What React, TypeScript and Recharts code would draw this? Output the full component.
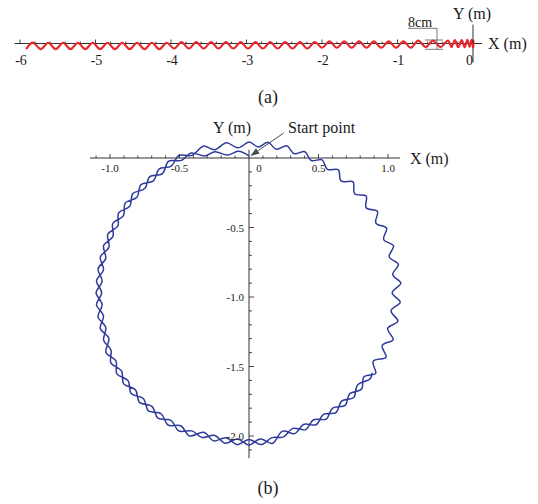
import React from "react"
import { LineChart, Line, XAxis, YAxis, ReferenceLine, ReferenceDot } from "recharts"

type Pt = [number, number]

const SERIF = '"Liberation Serif", "Times New Roman", serif'
const RED = "#e6282d"
const BLUE = "#2f3b9c"
const INK = "#1a1a1a"

// (a) straight run along -X, extrema of the weave (m)
const straightRun: Pt[] = [
  [-5.919, -0.075], [-5.821, 0.009], [-5.723, -0.075], [-5.625, 0.009], [-5.527, -0.075],
  [-5.429, 0.009], [-5.331, -0.075], [-5.233, 0.009], [-5.135, -0.075], [-5.037, 0.009],
  [-4.939, -0.075], [-4.841, 0.009], [-4.743, -0.075], [-4.645, 0.009], [-4.547, -0.075],
  [-4.449, 0.009], [-4.351, -0.075], [-4.253, 0.009], [-4.155, -0.075], [-4.057, 0.009],
  [-3.959, -0.066], [-3.861, 0.018], [-3.763, -0.066], [-3.665, 0.018], [-3.567, -0.066],
  [-3.469, 0.018], [-3.371, -0.066], [-3.273, 0.018], [-3.175, -0.066], [-3.077, 0.018],
  [-2.979, -0.066], [-2.881, 0.018], [-2.783, -0.066], [-2.685, 0.018], [-2.587, -0.066],
  [-2.489, 0.018], [-2.391, -0.066], [-2.293, 0.018], [-2.195, -0.066], [-2.097, 0.018],
  [-1.999, -0.056], [-1.901, 0.028], [-1.803, -0.056], [-1.705, 0.028], [-1.607, -0.056],
  [-1.509, 0.028], [-1.411, -0.056], [-1.313, 0.028], [-1.215, -0.056], [-1.117, 0.028],
  [-1.019, -0.056], [-0.921, 0.028], [-0.823, -0.056], [-0.725, 0.038], [-0.627, -0.046],
  [-0.529, 0.038], [-0.431, -0.046], [-0.333, 0.038], [-0.285, -0.05], [-0.24, 0.045],
  [-0.195, -0.05], [-0.15, 0.045], [-0.11, -0.05], [-0.075, 0.05], [-0.045, -0.045],
  [-0.02, 0.05], [0.0, -0.05], [0.006, 0.04],
]
const runTicks = [-6, -5, -4, -3, -2, -1, 0]
const runTickLabels = ["-6", "-5", "-4", "-3", "-2", "-1", "0"]

// (b) circular run: first lap from the start point, the single right-hand stretch, second lap
const startLap: Pt[] = [
  [0, 0.016], [-0.08, 0.049], [-0.157, 0.021], [-0.244, 0.045], [-0.32, 0.015],
  [-0.417, 0.036], [-0.486, -0.017], [-0.58, -0.024], [-0.623, -0.112], [-0.714, -0.134],
  [-0.75, -0.22], [-0.836, -0.256], [-0.858, -0.347], [-0.938, -0.395], [-0.944, -0.489],
  [-1.016, -0.549], [-1.008, -0.642], [-1.07, -0.713], [-1.047, -0.804], [-1.097, -0.884],
  [-1.06, -0.97], [-1.097, -1.056], [-1.047, -1.136], [-1.07, -1.227], [-1.008, -1.298],
  [-1.03, -1.397], [-0.958, -1.458], [-0.951, -1.553], [-0.87, -1.602], [-0.848, -1.694],
  [-0.76, -1.73], [-0.724, -1.818], [-0.632, -1.84], [-0.583, -1.921], [-0.488, -1.928],
  [-0.427, -2.0], [-0.326, -1.973], [-0.256, -2.035], [-0.165, -2.012], [-0.086, -2.062],
  [0, -2.025], [0.086, -2.062], [0.165, -2.012], [0.249, -2.006], [0.317, -1.945],
  [0.408, -1.954], [0.465, -1.883], [0.556, -1.878], [0.602, -1.799], [0.692, -1.78],
  [0.725, -1.695], [0.81, -1.662], [0.829, -1.572],
]
const rightSide: Pt[] = [
  [0.912, -1.549], [0.894, -1.461], [0.986, -1.434], [0.958, -1.349], [1.037, -1.307],
  [0.998, -1.226], [1.071, -1.174], [1.022, -1.099], [1.088, -1.038], [1.03, -0.97],
  [1.092, -0.901], [1.034, -0.839], [1.075, -0.765], [1.009, -0.711], [1.04, -0.632],
  [0.969, -0.586], [0.99, -0.504], [0.913, -0.468], [0.924, -0.384], [0.843, -0.358],
  [0.843, -0.273], [0.76, -0.257], [0.749, -0.172], [0.664, -0.167], [0.643, -0.085],
  [0.564, -0.082], [0.526, -0.013], [0.448, -0.018], [0.402, 0.045], [0.325, 0.031],
  [0.272, 0.088], [0.197, 0.063], [0.137, 0.113], [0.066, 0.08],
]
const secondLap: Pt[] = [
  [0, 0.115], [-0.08, 0.073], [-0.163, 0.11], [-0.245, 0.06], [-0.33, 0.085],
  [-0.41, 0.019], [-0.504, 0.019], [-0.559, -0.058], [-0.647, -0.08], [-0.688, -0.164],
  [-0.778, -0.192], [-0.806, -0.282], [-0.89, -0.323], [-0.904, -0.416], [-0.98, -0.471],
  [-0.979, -0.564], [-1.046, -0.63], [-1.031, -0.723], [-1.086, -0.798], [-1.057, -0.887],
  [-1.1, -0.97], [-1.057, -1.053], [-1.086, -1.142], [-1.031, -1.217], [-1.046, -1.31],
  [-0.993, -1.381], [-0.993, -1.476], [-0.917, -1.532], [-0.902, -1.625], [-0.817, -1.668],
  [-0.788, -1.758], [-0.698, -1.787], [-0.655, -1.872], [-0.562, -1.887], [-0.506, -1.963],
  [-0.411, -1.963], [-0.338, -2.011], [-0.246, -1.996], [-0.171, -2.052], [-0.083, -2.022],
  [0, -2.065], [0.083, -2.022], [0.171, -2.052], [0.239, -1.967], [0.329, -1.983],
  [0.392, -1.917], [0.484, -1.919], [0.536, -1.844], [0.626, -1.832], [0.666, -1.749],
  [0.753, -1.723], [0.779, -1.636], [0.862, -1.596], [0.885, -1.545],
]
const circleXTicks = [-1, -0.5, 0, 0.5, 1]
const circleXLabels = ["-1.0", "-0.5", "0", "0.5", "1.0"]
const circleYTicks = [-0.5, -1, -1.5, -2]
const circleYLabels = ["-0.5", "-1.0", "-1.5", "-2.0"]

const toRows = (pts: Pt[]) => pts.map(([x, y]) => ({ x, y }))

// domains so that metres map to the same pixels on both axes
function frame(w: number, h: number, ox: number, oy: number, k: number) {
  return { x: [-ox / k, (w - ox) / k], y: [-(h - oy) / k, oy / k] }
}

function steps(from: number, to: number, step: number) {
  const out: number[] = []
  for (let v = from; v <= to + 1e-9; v += step) out.push(Math.round(v * 1000) / 1000)
  return out
}
const isMajor = (v: number, every: number) => Math.abs(v / every - Math.round(v / every)) < 1e-6

const tickUp = (len: number) => (p: any) => (
  <line x1={p.cx} y1={p.cy} x2={p.cx} y2={p.cy - len} stroke={INK} strokeWidth={0.8} />
)
const tickRight = (len: number) => (p: any) => (
  <line x1={p.cx} y1={p.cy} x2={p.cx + len} y2={p.cy} stroke={INK} strokeWidth={0.8} />
)
const textAt = (s: string, dx: number, dy: number, size: number, anchor = "middle") => (p: any) => (
  <text x={p.cx + dx} y={p.cy + dy} fontSize={size} textAnchor={anchor} fontFamily={SERIF} fill={INK}>
    {s}
  </text>
)

function arrowShape(props: any) {
  const { x1, y1, x2, y2 } = props
  const a = Math.atan2(y2 - y1, x2 - x1)
  const len = 9
  const half = 3.2
  const bx = x2 - len * Math.cos(a)
  const by = y2 - len * Math.sin(a)
  const nx = -Math.sin(a) * half
  const ny = Math.cos(a) * half
  return (
    <g>
      <line x1={x1} y1={y1} x2={bx} y2={by} stroke="#404d48" strokeWidth={1} />
      <polygon points={`${x2},${y2} ${bx + nx},${by + ny} ${bx - nx},${by - ny}`} fill="#404d48" />
    </g>
  )
}

const axisLine = { stroke: INK, strokeWidth: 0.9, ifOverflow: "visible" as const }
const gray = { stroke: "#555", strokeWidth: 0.8, ifOverflow: "visible" as const }

function StraightPanel() {
  const f = frame(538, 80, 473, 43.5, 75.5)
  const minor = steps(-6, 0, 0.2)
  return (
    <LineChart width={538} height={80} margin={{ top: 0, right: 0, bottom: 0, left: 0 }}>
      <XAxis hide type="number" dataKey="x" domain={f.x} allowDataOverflow />
      <YAxis hide type="number" domain={f.y} allowDataOverflow />
      <ReferenceLine segment={[{ x: -6.07, y: 0 }, { x: 0.12, y: 0 }]} {...axisLine} />
      <ReferenceLine segment={[{ x: 0, y: 0.25 }, { x: 0, y: -0.25 }]} {...axisLine} />
      {minor.map((v) => (
        <ReferenceDot key={`t${v}`} x={v} y={0} shape={tickUp(isMajor(v, 1) ? 4 : 2)} />
      ))}
      {runTicks.map((v, i) => (
        <ReferenceDot key={`l${v}`} x={v} y={0} shape={textAt(runTickLabels[i], v === 0 ? -3.5 : 1, 21, 14)} />
      ))}
      <ReferenceDot x={0.12} y={0} shape={textAt("X (m)", 6, 5.5, 16, "start")} />
      <ReferenceDot x={0} y={0.25} shape={textAt("Y (m)", -1, -5.6, 16)} />
      {/* 8 cm amplitude marker */}
      <ReferenceLine segment={[{ x: -0.861, y: 0.201 }, { x: -0.477, y: 0.201 }]} {...gray} />
      <ReferenceLine segment={[{ x: -0.477, y: 0.201 }, { x: -0.477, y: -0.077 }]} {...gray} />
      <ReferenceLine segment={[{ x: -0.636, y: 0.046 }, { x: -0.397, y: 0.046 }]} {...gray} />
      <ReferenceLine segment={[{ x: -0.636, y: -0.077 }, { x: -0.397, y: -0.077 }]} {...gray} />
      <ReferenceDot x={-0.861} y={0.201} shape={textAt("8cm", 0, -1.5, 14, "start")} />
      <Line
        data={toRows(straightRun)}
        dataKey="y"
        type="natural"
        stroke={RED}
        strokeWidth={2.1}
        dot={false}
        activeDot={false}
        isAnimationActive={false}
      />
    </LineChart>
  )
}

function CirclePanel() {
  const f = frame(538, 370, 249, 48, 139)
  const xs = steps(-1.1, 1.0, 0.1).filter((v) => v !== 0)
  const ys = steps(-2.1, -0.1, 0.1)
  const path = toRows([...startLap, ...rightSide, ...secondLap])
  return (
    <LineChart width={538} height={370} margin={{ top: 0, right: 0, bottom: 0, left: 0 }}>
      <XAxis hide type="number" dataKey="x" domain={f.x} allowDataOverflow />
      <YAxis hide type="number" domain={f.y} allowDataOverflow />
      <ReferenceLine segment={[{ x: -1.144, y: 0 }, { x: 1.086, y: 0 }]} {...axisLine} />
      <ReferenceLine segment={[{ x: 0, y: 0.06 }, { x: 0, y: -2.16 }]} {...axisLine} />
      {xs.map((v) => (
        <ReferenceDot key={`x${v}`} x={v} y={0} shape={tickUp(isMajor(v, 0.5) ? 4 : 2.5)} />
      ))}
      {ys.map((v) => (
        <ReferenceDot key={`y${v}`} x={0} y={v} shape={tickRight(isMajor(v, 0.5) ? 5 : 3)} />
      ))}
      {circleXTicks.map((v, i) => (
        <ReferenceDot key={`xl${v}`} x={v} y={0} shape={textAt(circleXLabels[i], v === 0 ? 10 : 0, 14, 11)} />
      ))}
      {circleYTicks.map((v, i) => (
        <ReferenceDot key={`yl${v}`} x={0} y={v} shape={textAt(circleYLabels[i], -5, 4, 11, "end")} />
      ))}
      <ReferenceDot x={1.086} y={0} shape={textAt("X (m)", 10, 5.5, 16, "start")} />
      <ReferenceDot x={0} y={0.06} shape={textAt("Y (m)", -17, -17, 16)} />
      <ReferenceDot x={0} y={0.06} shape={textAt("Start point", 39, -17, 16, "start")} />
      <ReferenceLine
        segment={[{ x: 0.25, y: 0.18 }, { x: 0.01, y: 0.015 }]}
        ifOverflow="visible"
        shape={arrowShape}
      />
      <Line
        data={path}
        dataKey="y"
        type="natural"
        stroke={BLUE}
        strokeWidth={1.5}
        dot={false}
        activeDot={false}
        isAnimationActive={false}
      />
    </LineChart>
  )
}

const caption: React.CSSProperties = {
  position: "absolute",
  left: 238,
  width: 60,
  textAlign: "center",
  fontFamily: SERIF,
  fontSize: 18,
  lineHeight: "18px",
  color: INK,
}

export default function App() {
  return (
    <div style={{ position: "relative", width: 538, height: 504, background: "#fff" }}>
      <style>{"body{margin:0}"}</style>
      <div style={{ position: "absolute", left: 0, top: 0 }}>
        <StraightPanel />
      </div>
      <div style={{ ...caption, top: 88 }}>(a)</div>
      <div style={{ position: "absolute", left: 0, top: 110 }}>
        <CirclePanel />
      </div>
      <div style={{ ...caption, top: 479 }}>(b)</div>
    </div>
  )
}
